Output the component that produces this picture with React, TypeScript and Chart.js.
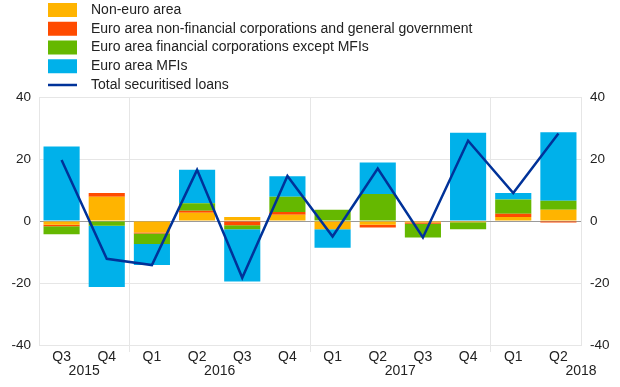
import { useEffect, useRef } from 'react';
import { Chart, registerables } from 'chart.js';

Chart.register(...registerables);

const quarters = ['Q3', 'Q4', 'Q1', 'Q2', 'Q3', 'Q4', 'Q1', 'Q2', 'Q3', 'Q4', 'Q1', 'Q2'];
const years = ['2015', '2016', '2017', '2018'];
const yearAt = [0.5, 3.5, 7.5, 11.5];
const yearBoundaries = [2, 6, 10];

const nonEuro = [-1.2, 7.8, -3.7, 2.7, 1.3, 2.0, -2.7, -1.2, -0.5, -0.4, 1.3, 3.6];
const nfcGov = [-0.5, 1.2, -0.3, 0.6, -1.4, 0.9, 0, -0.9, -0.4, 0, 1.0, -0.5];
const financial = [-2.6, -1.5, -3.4, 2.4, -1.3, 4.9, 3.6, 8.7, -4.4, -2.3, 4.6, 2.9];
const mfis = [24.0, -19.8, -6.8, 10.8, -16.8, 6.6, -5.9, 10.2, 0, 28.5, 2.1, 22.1];
const total = [19.7, -12.2, -14.2, 16.5, -18.3, 14.5, -5.0, 16.9, -5.3, 25.9, 9.0, 28.2];

const yTicks = [-40, -20, 0, 20, 40];

const FONT = "'Liberation Sans', Arial, Helvetica, sans-serif";
const TEXT = '#222';
const GRID = '#e6e6e6';

const legendPlugin = {
  id: 'customLegend',
  afterDraw(chart: any) {
    const ctx = chart.ctx;
    ctx.save();
    ctx.font = `14px ${FONT}`;
    ctx.textBaseline = 'middle';
    ctx.textAlign = 'left';
    const rowH = 18.75;
    chart.data.datasets.forEach((ds: any, i: number) => {
      const cy = 10 + i * rowH;
      if (ds.type === 'line') {
        ctx.strokeStyle = ds.borderColor;
        ctx.lineWidth = 2.5;
        ctx.beginPath();
        ctx.moveTo(48, cy);
        ctx.lineTo(77, cy);
        ctx.stroke();
      } else {
        ctx.fillStyle = ds.backgroundColor;
        ctx.fillRect(48, cy - 7, 29, 14);
      }
      ctx.fillStyle = TEXT;
      ctx.fillText(ds.label, 91, cy);
    });
    ctx.restore();
  },
};

const yearPlugin = {
  id: 'yearLabels',
  afterDraw(chart: any) {
    const ctx = chart.ctx;
    const xs = chart.scales.x;
    ctx.save();
    ctx.font = `14px ${FONT}`;
    ctx.textBaseline = 'middle';
    ctx.textAlign = 'center';
    ctx.fillStyle = TEXT;
    years.forEach((y, i) => {
      ctx.fillText(y, xs.getPixelForValue(yearAt[i]), 371);
    });
    ctx.restore();
  },
};

export default function App() {
  const ref = useRef<HTMLCanvasElement | null>(null);

  useEffect(() => {
    document.body.style.margin = '0';
    const canvas = ref.current;
    if (!canvas) return;
    const yAxisCommon = {
      min: -40,
      max: 40,
      stacked: true,
      afterBuildTicks: (scale: any) => {
        scale.ticks = yTicks.map((v) => ({ value: v }));
      },
      ticks: {
        font: { family: FONT, size: 13.5 },
        color: TEXT,
        padding: 8,
      },
    };
    const chart = new Chart(canvas, {
      type: 'bar',
      data: {
        labels: quarters,
        datasets: [
          { type: 'bar', label: 'Non-euro area', data: nonEuro, backgroundColor: '#FFB400', stack: 's', order: 1 },
          { type: 'bar', label: 'Euro area non-financial corporations and general government', data: nfcGov, backgroundColor: '#FF4B00', stack: 's', order: 1 },
          { type: 'bar', label: 'Euro area financial corporations except MFIs', data: financial, backgroundColor: '#65B800', stack: 's', order: 1 },
          { type: 'bar', label: 'Euro area MFIs', data: mfis, backgroundColor: '#00B1EA', stack: 's', order: 1 },
          {
            type: 'line',
            label: 'Total securitised loans',
            data: total,
            borderColor: '#003299',
            backgroundColor: '#003299',
            borderWidth: 2.5,
            pointRadius: 0,
            tension: 0,
            stack: 'line',
            order: 0,
          } as any,
        ],
      },
      options: {
        responsive: false,
        animation: false,
        events: [],
        layout: { padding: { top: 97, left: 0, right: 0, bottom: 0 } },
        datasets: { bar: { categoryPercentage: 1, barPercentage: 0.8 } } as any,
        plugins: {
          legend: { display: false },
          tooltip: { enabled: false },
        },
        scales: {
          x: {
            stacked: true,
            afterFit: (s: any) => {
              s.height = 42;
            },
            border: { color: GRID },
            grid: {
              offset: true,
              tickLength: 7,
              color: (c: any) => (yearBoundaries.includes(c.index) ? GRID : 'rgba(0,0,0,0)'),
              tickColor: (c: any) => (yearBoundaries.includes(c.index) ? GRID : 'rgba(0,0,0,0)'),
            },
            ticks: {
              font: { family: FONT, size: 14 },
              color: TEXT,
              padding: -3,
              maxRotation: 0,
              autoSkip: false,
            },
          },
          y: {
            ...yAxisCommon,
            position: 'left',
            afterFit: (s: any) => {
              s.width = 39;
            },
            border: { color: GRID },
            grid: {
              drawTicks: false,
              color: (c: any) => (c.tick && c.tick.value === 0 ? '#9a9a9a' : GRID),
            },
          } as any,
          y2: {
            ...yAxisCommon,
            position: 'right',
            afterFit: (s: any) => {
              s.width = 39;
            },
            border: { color: GRID },
            grid: { display: false, drawTicks: false },
            ticks: { ...yAxisCommon.ticks, padding: 9 },
          } as any,
        },
      },
      plugins: [legendPlugin, yearPlugin],
    });
    return () => chart.destroy();
  }, []);

  return <canvas ref={ref} width={620} height={387} style={{ display: 'block' }} />;
}
